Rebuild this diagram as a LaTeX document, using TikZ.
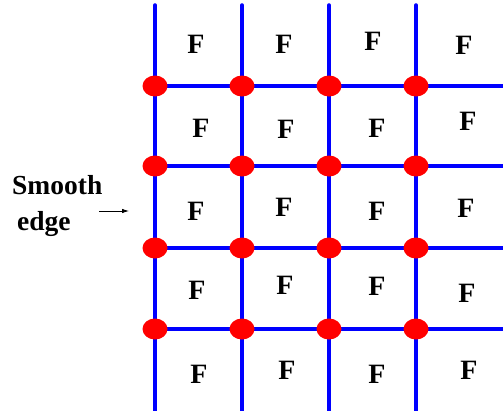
\documentclass[tikz,border=0pt]{standalone}
\usepackage{fontspec}
\setmainfont{Liberation Serif}
\usetikzlibrary{arrows.meta,shapes.geometric}
\begin{document}
\begin{tikzpicture}[x=1pt,y=-1pt,
  gridline/.style={draw=blue,line width=4.6pt},
  dot/.style={ellipse,fill=red,minimum width=25pt,minimum height=21pt,inner sep=0pt},
  flabel/.style={font=\fontsize{28}{28}\selectfont\bfseries,inner sep=0pt},
  edgelabel/.style={font=\fontsize{27.5}{28}\selectfont\bfseries,inner sep=0pt,anchor=base west}]
\useasboundingbox (0,0) rectangle (503,410);
% column and row positions
\def\xa{155}\def\xb{242}\def\xc{329}\def\xd{416}
\def\ya{86}\def\yb{166}\def\yc{248}\def\yd{329}
% free ends of grid lines
\foreach \c/\x in {1/\xa,2/\xb,3/\xc,4/\xd}{
  \coordinate (top\c) at (\x,5.5);
  \coordinate (bot\c) at (\x,412);
}
\foreach \r/\y in {1/\ya,2/\yb,3/\yc,4/\yd}{
  \coordinate (left\r) at (143,\y);
  \coordinate (right\r) at (505,\y);
}
\foreach \c in {1,2,3,4}{\draw[gridline,line cap=round] (top\c) -- (bot\c);}
\foreach \r in {1,2,3,4}{\draw[gridline] (left\r) -- (right\r);}
% dots
\foreach \c/\x in {1/\xa,2/\xb,3/\xc,4/\xd}{
  \foreach \r/\y in {1/\ya,2/\yb,3/\yc,4/\yd}{
    \node[dot] (d\r\c) at (\x,\y) {};
  }
}
% F labels
\node[flabel] (f01) at (196,44) {F};
\node[flabel] (f02) at (284,44) {F};
\node[flabel] (f03) at (373,41) {F};
\node[flabel] (f04) at (464,45) {F};
\node[flabel] (f11) at (201,128) {F};
\node[flabel] (f12) at (286,129) {F};
\node[flabel] (f13) at (377,128) {F};
\node[flabel] (f14) at (468,121) {F};
\node[flabel] (f21) at (196,211) {F};
\node[flabel] (f22) at (284,207) {F};
\node[flabel] (f23) at (377,211) {F};
\node[flabel] (f24) at (466,208) {F};
\node[flabel] (f31) at (197,290) {F};
\node[flabel] (f32) at (285,285) {F};
\node[flabel] (f33) at (377,286) {F};
\node[flabel] (f34) at (467,293) {F};
\node[flabel] (f41) at (199,374) {F};
\node[flabel] (f42) at (287,370) {F};
\node[flabel] (f43) at (377,374) {F};
\node[flabel] (f44) at (469,370) {F};
% smooth edge label
\node[edgelabel] (se1) at (12,194) {Smooth};
\node[edgelabel] (se2) at (17,230) {edge};
\coordinate (arrs) at (99,211);
\coordinate (arre) at (129,211);
\draw[-{Latex[length=7pt,width=4.5pt]},line width=0.8pt] (arrs) -- (arre);
\end{tikzpicture}
\end{document}
